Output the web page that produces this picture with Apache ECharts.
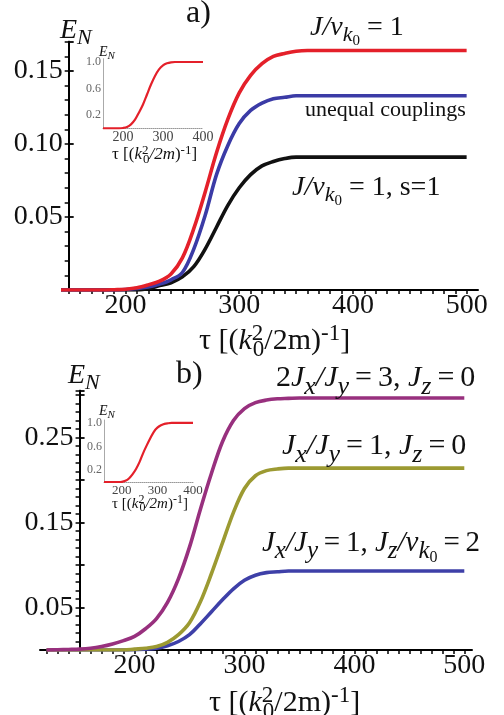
<!DOCTYPE html>
<html><head><meta charset="utf-8">
<script src="https://cdn.jsdelivr.net/npm/echarts@6/dist/echarts.min.js"></script>
<style>html,body{margin:0;padding:0;background:#fff}#c{width:504px;height:715px}</style>
</head><body><div id="c"></div>
<script>
const F = 'Liberation Serif';
// x values (tau) for main panels
const tau = [120,130,140,150,160,170,180,190,200,210,220,230,240,250,260,270,280,290,300,310,320,330,340,350,360,370,380,390,400,410,420,430,440,450,460,470,480,490,500];
// panel a)
const redA   = [0,0,0,0,0,0,0,0.0002,0.0005,0.0015,0.0035,0.006,0.011,0.022,0.042,0.067,0.094,0.117,0.135,0.147,0.155,0.160,0.162,0.1635,0.164,0.164,0.164,0.164,0.164,0.164,0.164,0.164,0.164,0.164,0.164,0.164,0.164,0.164,0.164];
const blueA  = [0,0,0,0,0,0,0,0,0.0003,0.001,0.002,0.004,0.007,0.012,0.028,0.051,0.079,0.099,0.114,0.123,0.128,0.131,0.132,0.133,0.133,0.133,0.133,0.133,0.133,0.133,0.133,0.133,0.133,0.133,0.133,0.133,0.133,0.133,0.133];
const blackA = [0,0,0,0,0,0,0,0,0,0,0.001,0.003,0.005,0.009,0.016,0.028,0.043,0.058,0.070,0.079,0.085,0.088,0.090,0.091,0.091,0.091,0.091,0.091,0.091,0.091,0.091,0.091,0.091,0.091,0.091,0.091,0.091,0.091,0.091];
// panel b)
const purpleB = [0,0.0003,0.0006,0.001,0.002,0.004,0.007,0.011,0.016,0.025,0.037,0.056,0.084,0.121,0.166,0.208,0.245,0.270,0.284,0.291,0.294,0.2955,0.296,0.2965,0.2965,0.2965,0.2965,0.2965,0.2965,0.2965,0.2965,0.2965,0.2965,0.2965,0.2965,0.2965,0.2965,0.2965,0.2965];
const oliveB  = [0,0,0,0,0,0,0,0,0.001,0.002,0.004,0.009,0.018,0.032,0.057,0.090,0.126,0.162,0.190,0.205,0.211,0.213,0.214,0.214,0.214,0.214,0.214,0.214,0.214,0.214,0.214,0.214,0.214,0.214,0.214,0.214,0.214,0.214,0.214];
const blueB   = [0,0,0,0,0,0,0,0,0.0003,0.001,0.002,0.005,0.010,0.018,0.031,0.045,0.059,0.072,0.082,0.088,0.091,0.092,0.093,0.093,0.093,0.093,0.093,0.093,0.093,0.093,0.093,0.093,0.093,0.093,0.093,0.093,0.093,0.093,0.093];
// insets
const insetTau = [150,160,170,180,190,200,210,220,230,240,250,260,270,280,290,300,310,320,330,340,350,360,370,380,390,400];
const insetA = [0,0,0,0,0,0.005,0.02,0.06,0.13,0.24,0.36,0.51,0.66,0.79,0.89,0.95,0.98,0.995,1.0,1.0,1.0,1.0,1.0,1.0,1.0,1.0];
const insetB = [0,0,0,0,0,0.003,0.02,0.06,0.13,0.22,0.34,0.49,0.62,0.74,0.85,0.92,0.96,0.985,0.995,1.0,1.0,1.0,1.0,1.0,1.0,1.0];
// tick labels
const xLabels = [200,300,400,500];
const yLabelsA = [0.05,0.10,0.15];
const yLabelsB = [0.05,0.15,0.25];
const insetXLabels = [200,300,400];
const insetYLabels = [0.2,0.6,1.0];

function pts(xs, ys){ return xs.map((x,i)=>[x, ys[i]]); }
const has = (arr, v) => arr.some(a => Math.abs(a - v) < 1e-6);

const black = '#111';
const line = {show:true, onZero:false, lineStyle:{color:'#000', width:2}};
const lbl = (size)=>({fontFamily:F, fontSize:size, color:black});
const kA = 415/365, kB = 432/393;

const grids = [
  {left:63, top:41.8, width:415, height:248.2},                    // 0 a data
  {left:63+5*kA, top:41.8, width:350*kA, height:248.2},            // 1 a axes (150..500)
  {left:103, top:58.7, width:100, height:69.6},                    // 2 a inset
  {left:40, top:390.75, width:432, height:259.25},                 // 3 b data
  {left:40+6*kB, top:390.75, width:380*kB, height:259.25},         // 4 b axes (120..500)
  {left:104, top:420, width:89, height:62}                         // 5 b inset
];

const insetX = (g)=>({gridIndex:g, type:'value', min:150, max:400, splitLine:{show:false},
   axisLine:{show:true, onZero:false, lineStyle:{color:'#999', type:'dotted', width:1}},
   axisTick:{show:false}, axisLabel:{customValues:insetXLabels, margin:2, fontFamily:F, fontSize:g===2?14:13, color:'#444'}});
const insetY = (g)=>({gridIndex:g, type:'value', min:0, max:1.05, position:'left', splitLine:{show:false},
   axisLine:{show:true, onZero:false, lineStyle:{color:'#aaa', width:1}},
   axisTick:{show:false},
   axisLabel:{customValues:insetYLabels, formatter:v=>v.toFixed(1), margin:2, fontFamily:F, fontSize:12, color:'#666'}});

// ticks: x ticks point up into the plot, y minor ticks point right, y major ticks stick out left
const xTick = {show:true, inside:true, length:-4, lineStyle:{color:'#000', width:1.5}};
const yMajTick = {show:true, inside:true, length:5, lineStyle:{color:'#000', width:1.8}};
const yMinTick = {show:true, inside:true, length:-4, lineStyle:{color:'#000', width:1.5}};

const xAxes = [
  {gridIndex:0, type:'value', min:145, max:510, axisLine:line, splitLine:{show:false}, axisTick:{show:false}, axisLabel:{show:false}},
  {gridIndex:1, type:'value', min:150, max:500, interval:10, position:'bottom', axisLine:line, splitLine:{show:false},
   axisTick:xTick, axisLabel:{formatter:v=>has(xLabels,v)?String(v):'', margin:2, ...lbl(28)}},
  insetX(2),
  {gridIndex:3, type:'value', min:114, max:507, axisLine:line, splitLine:{show:false}, axisTick:{show:false}, axisLabel:{show:false}},
  {gridIndex:4, type:'value', min:120, max:500, interval:10, position:'bottom', axisLine:line, splitLine:{show:false},
   axisTick:xTick, axisLabel:{formatter:v=>has(xLabels,v)?String(v):'', margin:2, ...lbl(28)}},
  insetX(5)
];
const yAxes = [
  {gridIndex:0, type:'value', min:0, max:0.17, show:false},
  {gridIndex:1, type:'value', min:0, max:0.17, interval:0.05, position:'left', axisLine:line, splitLine:{show:false},
   axisTick:yMajTick, axisLabel:{formatter:v=>has(yLabelsA,v)?v.toFixed(2):'', margin:6, ...lbl(28)}},
  {gridIndex:1, type:'value', min:0, max:0.17, interval:0.01, position:'left', axisLine:line, splitLine:{show:false},
   axisTick:yMinTick, axisLabel:{show:false}},
  insetY(2),
  {gridIndex:3, type:'value', min:0, max:0.305, show:false},
  {gridIndex:4, type:'value', min:0, max:0.305, interval:0.05, position:'left', offset:-30*kB, axisLine:line, splitLine:{show:false},
   axisTick:yMajTick, axisLabel:{formatter:v=>has(yLabelsB,v)?v.toFixed(2):'', margin:6, ...lbl(28)}},
  {gridIndex:4, type:'value', min:0, max:0.305, interval:0.01, position:'left', offset:-30*kB, axisLine:line, splitLine:{show:false},
   axisTick:yMinTick, axisLabel:{show:false}},
  insetY(5)
];

function ser(xi, yi, xs, ys, color, w, z){
  return {type:'line', xAxisIndex:xi, yAxisIndex:yi, data:pts(xs, ys), smooth:0.35, showSymbol:false,
          lineStyle:{color, width:w}, z, silent:true};
}
const series = [
  ser(0,0,tau,blackA,'#111111',3.6,3),
  ser(0,0,tau,blueA,'#3b3ba6',3.6,4),
  ser(0,0,tau,redA,'#e4202a',3.6,5),
  ser(2,3,insetTau,insetA,'#e4202a',2.2,6),
  ser(3,4,tau,blueB,'#3e40a8',3.6,3),
  ser(3,4,tau,oliveB,'#9c9a32',3.6,4),
  ser(3,4,tau,purpleB,'#98307e',3.6,5),
  ser(5,7,insetTau,insetB,'#e4202a',2.2,6)
];

function richSet(S, subR){
  const sub = Math.round(S*(subR||0.78)), sub2 = Math.round(S*0.55);
  return {
    r:{fontFamily:F, fontSize:S, lineHeight:S+2, fill:black, verticalAlign:'middle'},
    i:{fontFamily:F, fontStyle:'italic', fontSize:S, lineHeight:S+2, fill:black, verticalAlign:'middle'},
    s:{fontFamily:F, fontStyle:'italic', fontSize:sub, lineHeight:sub, padding:[Math.round(S*0.55),0,0,0], fill:black, verticalAlign:'middle'},
    sr:{fontFamily:F, fontSize:sub, lineHeight:sub, padding:[Math.round(S*0.55),0,0,0], fill:black, verticalAlign:'middle'},
    ss:{fontFamily:F, fontSize:sub2, lineHeight:sub2, padding:[Math.round(S*1.0),0,0,0], fill:black, verticalAlign:'middle'},
    p:{fontFamily:F, fontSize:sub, lineHeight:sub, padding:[0,0,Math.round(S*0.5),0], fill:black, verticalAlign:'middle'},
    p2:{fontFamily:F, fontSize:sub, lineHeight:sub, width:1, padding:[0,0,Math.round(S*0.5),0], fill:black, verticalAlign:'middle'}
  };
}
function T(left, top, text, S, subR){
  return {type:'text', left, top, z:100, silent:true, style:{text, rich:richSet(S, subR), fill:black, fontFamily:F, fontSize:S}};
}
const th = '\u2009';
const graphic = [
  T(186, -2, '{r|a)}', 32),
  T(176, 359, '{r|b)}', 32),
  T(60, 12, '{i|E}{s|N}', 28),
  T(68, 357, '{i|E}{s|N}', 28),
  T(310, 6, '{i|J/v}{s|k}{ss|0}{r| = 1}', 28),
  {type:'text', left:305, top:99, z:100, silent:true, style:{text:'unequal couplings', fontFamily:F, fontSize:22, fill:black}},
  T(292, 166, '{i|J/v}{s|k}{ss|0}{r| = 1, s=1}', 28),
  T(276, 357, `{r|2}{i|J}{s|x}{i|/J}{s|y}{r|${th}=${th}3, }{i|J}{s|z}{r|${th}=${th}0}`, 30, 0.85),
  T(282, 425, `{i|J}{s|x}{i|/J}{s|y}{r|${th}=${th}1, }{i|J}{s|z}{r|${th}=${th}0}`, 30, 0.85),
  T(262, 521, `{i|J}{s|x}{i|/J}{s|y}{r|${th}=${th}1, }{i|J}{s|z}{i|/v}{s|k}{ss|0}{r|${th}=${th}2}`, 29, 0.85),
  T(199, 321, '{r|τ [(}{i|k}{p2|2}{sr|0}{r|/2m)}{p|-1}{r|]}', 30),
  T(209, 683, '{r|τ [(}{i|k}{p2|2}{sr|0}{r|/2m)}{p|-1}{r|]}', 30),
  T(99, 43, '{i|E}{s|N}', 14),
  T(112, 144, '{r|τ [(}{i|k}{p2|2}{sr|0}{i|/2m}{r|)}{p|-1}{r|]}', 17),
  T(99, 402, '{i|E}{s|N}', 14),
  T(112, 494, '{r|τ [(}{i|k}{p2|2}{sr|0}{i|/2m}{r|)}{p|-1}{r|]}', 15)
];

const chart = echarts.init(document.getElementById('c'));
chart.setOption({
  animation:false, backgroundColor:'#fff', grid:grids,
  xAxis:xAxes, yAxis:yAxes, series, graphic
});
</script></body></html>
